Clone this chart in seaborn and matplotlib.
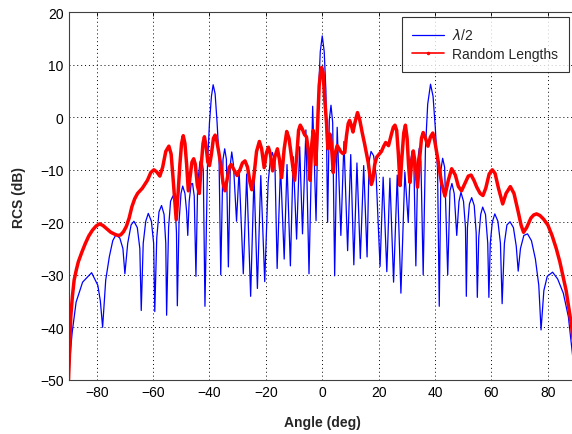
import numpy as np
import pandas as pd
import matplotlib
matplotlib.use("Agg")
import matplotlib.pyplot as plt
from matplotlib.lines import Line2D
import seaborn as sns

# ---- data ----
blue_angle_left = [-90, -89.2, -88.7, -87.3, -85, -81.8, -79.6, -78.7, -77.9, -76.8, -75.5, -74.3, -73.2,
                   -71.8, -70.7, -70, -69, -67.8, -66.8, -65.6, -64.7, -64.2, -63.5, -62.6, -61.7, -60.6,
                   -59.8, -59.4, -58.7, -57.9, -57, -56.1, -55.5, -55.2, -54.5, -53.8, -53, -52.2, -51.7,
                   -51.4, -50.8, -50.1, -49.5, -48.7, -48.1, -47.7, -47.2, -46.5, -46, -45.4, -44.8, -44.2,
                   -43.4, -42.8, -42.2, -41.6, -40.7, -40, -39.3, -38.7, -38, -37.3, -36.6, -36, -35.2,
                   -34.6, -34, -33.3, -32.6, -32.1, -31.5, -30.4, -29.5, -28, -26.8, -25.4, -24.2, -23,
                   -21.8, -20.4, -19.2, -18.4, -17.7, -16.8, -16, -14.8, -13.5, -12.5, -11.3, -10.3, -9.1,
                   -8, -7, -5.8, -4.7, -3.4, -2.2, -1.3, -0.7]
blue_db_left = [-50, -44, -41, -35.2, -31.4, -29.6, -32, -35, -40, -31, -26.5, -23.5, -22.4,
                -23, -25, -29.8, -24, -20.5, -19.8, -21, -25, -36.8, -24, -19.8, -18.3, -19.8,
                -24, -37, -23, -18, -16.8, -18.5, -24, -37.7, -21, -16, -15, -16.5, -22,
                -35.9, -20, -14.5, -13.1, -14.5, -18, -22.5, -16, -12.7, -12.6, -15, -30.3, -13,
                -8.5, -7.8, -10, -36, -9, -1, 4, 6.2, 4.5, -1, -8, -30, -8,
                -6, -8, -28.5, -9, -6.6, -9, -19.8, -10, -29.8, -10.8, -34.1, -11.2, -32.6,
                -11.1, -31.3, -12.5, -8, -6.7, -8.5, -28.8, -9.3, -27, -9, -28.3, -7.5, -23.2,
                -5.6, -22.2, -2.4, -29.8, 2.1, -19.7, 5, 12.5]
blue_angle_right = [0, 0.7, 1.3, 1.9, 2.5, 3.1, 3.7, 4.4, 5.3, 6.6, 7.7, 9.0, 10.1, 11.2, 12.3, 13.5,
                    14.7, 15.9, 16.6, 17.3, 18.2, 19.1, 20.5, 21.6, 22.9, 24.0, 25.3, 26.6, 27.9, 29.3,
                    30.5, 31.3, 31.9, 32.5, 33.2, 33.9, 34.4, 35.0, 35.8, 36.6, 37.4, 38.4, 39.3, 40.1,
                    40.9, 41.5, 42.1, 42.7, 43.4, 44.5, 45.3, 46.0, 46.8, 47.7, 48.5, 49.2, 50.1, 50.8,
                    51.1, 51.5, 52.2, 53.0, 53.9, 54.6, 55.0, 55.5, 56.2, 56.9, 57.9, 58.7, 59.1, 59.6,
                    60.3, 61.2, 62.3, 63.2, 63.8, 64.6, 65.5, 66.6, 67.8, 68.8, 69.5, 70.3, 71.5, 72.8,
                    74.2, 75.6, 76.8, 77.6, 78.6, 79.8, 81.7, 83.5, 85.5, 87.3, 88.6, 90]
blue_db_right = [15.5, 12.5, 5, -20, -0.5, 2.3, -1, -30.2, -1.9, -22.5, -4.6, -25.4, -7.1, -28.1, -8.7, -26.9,
                 -9.2, -26.6, -8.5, -6.5, -7.3, -11, -28.4, -11.4, -29.4, -11.6, -31.4, -11.0, -33.5, -10.4,
                 -20, -8.5, -6.4, -9, -28.3, -8, -5.9, -8.5, -30, -6, 2.5, 6.3, 4, -2,
                 -10, -36, -10, -7.8, -9.5, -30, -14, -12.6, -14.5, -22.5, -16, -14.3, -16, -21,
                 -34.1, -21, -16.5, -15.3, -16.8, -22, -34.3, -23, -18.5, -17.1, -18.5, -24, -34.3, -24,
                 -20, -18.4, -19.8, -24, -35.5, -24, -20.5, -19.9, -21, -24.5, -29.3, -25, -22.5, -22.2,
                 -23.5, -27, -32, -40.5, -33, -30.3, -29.5, -30.8, -33.5, -38, -44.5, -51]

red_angle = [-90, -89.5, -89.2, -88.6, -88, -87.2, -86.5, -85.2, -84, -82.8, -81.5, -80.2, -79, -77.8,
             -76.5, -75, -73.5, -72.5, -71.5, -70.5, -69.5, -68.5, -67.5, -66.5, -65.5, -63.8, -62,
             -60.8, -59.7, -58.7, -57.6, -56.6, -55.5, -54.4, -53.6, -53, -52.3, -51.8, -51.2, -50.5,
             -49.9, -49.3, -48.7, -48.1, -47.5, -46.8, -46.2, -45.6, -45, -44.3, -43.6, -42.9, -42.3,
             -41.8, -41.2, -40.6, -40, -39.3, -38.6, -38, -37.4, -36.6, -36, -35.2, -34.5, -33.8, -33,
             -32.3, -31.3, -30.2, -29.2, -28.3, -27.4, -26.5, -25.6, -25, -24.3, -23.3, -22.3, -21.5,
             -20.6, -19.8, -19.1, -18.4, -17.6, -16.8, -15.9, -15.2, -14.4, -13.5, -12.6, -11.8, -10.8,
             -9.8, -9, -8.4, -7.8, -7.1, -6.3, -5.6, -5.0, -4.3, -3.7, -3.2, -2.8, -2.3, -1.7, -1.1,
             -0.5, -0.2, 0.3, 0.8, 1.5, 2.0, 2.4, 2.7, 3.2, 3.9, 4.5, 5.3, 6.0, 6.5, 7.3, 8, 8.6, 9.2,
             9.7, 10.3, 10.9, 11.6, 12.5, 13.3, 14.2, 15, 16.3, 17, 17.4, 17.9, 18.6, 19.3, 20.2, 21,
             21.8, 22.5, 23.5, 24.4, 25.2, 25.8, 26.4, 27, 27.6, 28.2, 28.9, 29.5, 30.1, 30.6, 31.1,
             31.7, 32.3, 32.9, 33.8, 34.6, 35.2, 35.8, 36.5, 37.5, 38.4, 39.2, 39.9, 41, 42.3, 43.5,
             44.7, 45.9, 47.2, 48.3, 49.4, 50.7, 51.8, 52.8, 53.8, 54.8, 56, 57, 58, 59.2, 60.3, 61.3,
             62.5, 64, 65.2, 66.7, 68, 69.5, 70.5, 71.4, 72.5, 74, 75, 76, 77.2, 78.5, 80, 81.5, 83,
             84.3, 85.5, 86.5, 87.5, 88.5, 89.3, 90]
red_db = [-50, -43, -38, -34, -31, -29, -27.5, -25.6, -24, -22.6, -21.5, -20.7, -20.3, -20.6,
          -21.2, -21.9, -22.3, -22.5, -22.4, -21.8, -20.8, -19.2, -17, -15.5, -14.5, -13.5, -12,
          -10.5, -10, -10.4, -11.2, -9.5, -6.5, -5.5, -7, -11, -16, -19.5, -15, -9,
          -5, -3.5, -5, -9, -14, -11, -8.5, -7.9, -9, -13, -14.5, -9, -5,
          -3.7, -5.5, -8.5, -9.2, -7, -4, -3.4, -4.5, -7, -9, -12.5, -14, -12, -9.5,
          -9, -10, -11.1, -10, -8.7, -8.3, -9.5, -12.5, -13.8, -11.5, -6.5, -4.6, -6,
          -9.6, -6.8, -5.7, -7, -10.2, -7.5, -6, -8, -11.5, -6, -2.7, -4, -8,
          -12, -7, -2.5, -1.5, -2.2, -3.3, -3.7, -6, -12, -5, -2.5, -4, -9, -2, 6,
          9, 9.5, 8.5, 4, -1, -6, -4, -3.2, -5, -10.5, -7, -5.4, -6, -6.5, -6.9, -6.7, -3.5, -1.2,
          -0.6, -1.5, -2.8, -1, 0.9, -0.5, -3, -5, -8.6, -11.5, -12.8, -12, -9, -7.6, -7, -6.5,
          -5.5, -4.8, -5.4, -3.5, -1.9, -1.5, -2.5, -7, -13, -8, -3, -1.5, -4, -9, -12.4,
          -8.5, -6.4, -8.5, -13.3, -7.5, -4, -2.9, -3.8, -5.5, -3.7, -3, -4.5, -8, -12.5, -15,
          -12, -9.8, -11, -13.2, -14, -12.5, -11.2, -11, -12, -13.3, -14.5, -14.9, -13.5, -10.8, -10, -10.7,
          -13.5, -16.5, -14.5, -13.2, -14.5, -18, -20.5, -21.9, -21, -19.2, -18.6, -18.4, -18.7, -19.4, -20.5, -22.5, -25,
          -27.6, -30.5, -33, -36.5, -40, -44, -47]

x_ticks = [-80, -60, -40, -20, 0, 20, 40, 60, 80]
y_ticks = [-50, -40, -30, -20, -10, 0, 10, 20]
series_names = ["$\\lambda$/2", "Random Lengths"]

blue = pd.DataFrame({"angle": blue_angle_left + blue_angle_right,
                     "rcs": blue_db_left + blue_db_right})
red = pd.DataFrame({"angle": red_angle, "rcs": red_db})

sns.set_style("white")
plt.rcParams["font.family"] = ["Liberation Sans", "DejaVu Sans"]

fig = plt.figure(figsize=(5.72, 4.35), dpi=100)
ax = fig.add_axes([68.5 / 572, (435 - 380.8) / 435, 507.5 / 572, 367.5 / 435])

sns.lineplot(data=blue, x="angle", y="rcs", ax=ax, color="#0000ff", lw=0.9,
             estimator=None, sort=False, legend=False)
sns.lineplot(data=red, x="angle", y="rcs", ax=ax, color="#ff0000", lw=2.5,
             estimator=None, sort=False, legend=False,
             solid_joinstyle="round", solid_capstyle="round")

ax.set_xlim(-90, 90)
ax.set_ylim(-50, 20)
ax.set_xticks(x_ticks)
ax.set_yticks(y_ticks)
ax.tick_params(direction="in", top=True, right=True, length=3, width=0.6,
               labelsize=10, colors="black")
ax.grid(True, linestyle=(0, (1, 3)), color="black", lw=0.7)
for s in ax.spines.values():
    s.set_color("#404040")
    s.set_linewidth(0.8)
ax.set_xlabel("Angle (deg)", fontsize=10, fontweight="bold", labelpad=12)
ax.set_ylabel("RCS (dB)", fontsize=10, fontweight="bold", labelpad=10)

handles = [Line2D([0], [0], color="#0000ff", lw=0.9),
           Line2D([0], [0], color="#ff0000", lw=1.2, marker=".", markersize=3)]
leg = ax.legend(handles, series_names, loc="upper right", bbox_to_anchor=(0.986, 0.987),
                fontsize=10, frameon=True, fancybox=False, handlelength=2.3,
                handletextpad=0.6, borderpad=0.75, labelspacing=0.35, borderaxespad=0)
leg.get_frame().set_edgecolor("black")
leg.get_frame().set_linewidth(0.8)

fig.savefig("out.png", dpi=100)
